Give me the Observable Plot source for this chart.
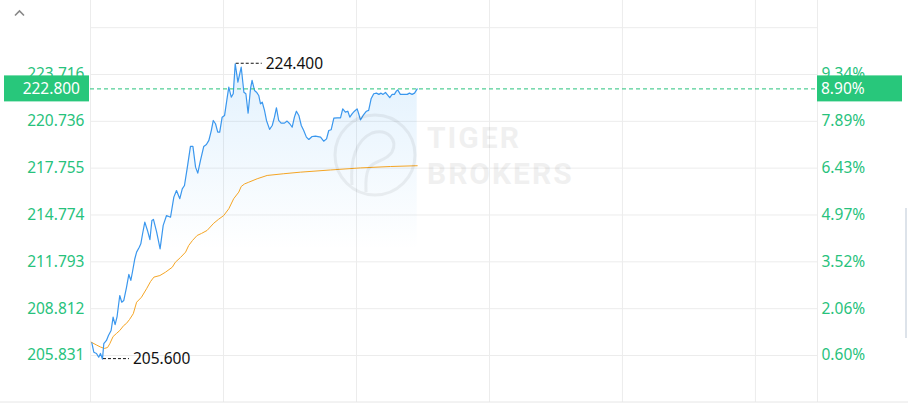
<!DOCTYPE html>
<html><head><meta charset="utf-8">
<script src="https://cdn.jsdelivr.net/npm/d3@7"></script>
<script src="https://cdn.jsdelivr.net/npm/@observablehq/plot@0.6"></script>
<style>
body{margin:0;background:#fff;font-family:"Noto Sans",sans-serif;}
#wrap{position:relative;width:908px;height:403px;overflow:hidden;}
#wrap svg.plot{position:absolute;left:0;top:0;}
#overlay{position:absolute;left:0;top:0;pointer-events:none;}
</style></head><body>
<svg width="0" height="0" style="position:absolute">
  <defs>
    <linearGradient id="areaGrad" x1="0" y1="0" x2="0" y2="1">
      <stop offset="0" stop-color="#2196f3" stop-opacity="0.13"/>
      <stop offset="0.55" stop-color="#2196f3" stop-opacity="0"/>
    </linearGradient>
  </defs>
</svg>
<div id="wrap"></div>
<script>
// ---- data ----
const priceTime = [
  0.6,1.5,2.7,3.7,4.5,5.4,6.0,7.2,8.1,9.3,
  10.2,11.1,12.0,13.2,14.1,15.0,16.2,17.3,18.2,18.9,
  20.0,20.8,22.0,22.7,23.5,24.5,25.7,26.8,27.7,28.4,
  29.8,31.4,32.8,34.3,36.1,37.6,38.8,40.3,41.4,42.4,
  43.6,45.1,46.2,47.4,48.4,49.6,51.1,52.3,53.4,54.5,
  55.4,56.4,57.4,58.3,59.4,60.5,61.7,62.4,63.5,64.4,
  65.3,66.5,68.0,69.2,70.1,71.1,72.2,72.9,74.0,74.9,
  75.9,76.7,77.5,78.5,79.4,80.8,82.0,83.0,83.9,84.9,
  86.0,87.5,88.7,89.9,91.0,92.0,92.9,94.0,95.1,96.2,
  97.4,98.5,100.0,101.5,103.8,105.2,106.5,107.5,108.6,109.8,
  111.3,112.8,113.8,115.0,116.1,117.0,118.1,119.1,120.3,121.0,
  121.8,123.0,124.5,125.5,126.6,127.8,129.0,130.1,131.1,132.0,
  133.1,133.8,135.0,136.1,137.1,138.0,138.6,139.8,141.3,142.9,
  143.9,145.1,146.2,147.4
];
const priceValue = [
  206.64,206.04,205.96,205.72,205.96,205.60,206.58,206.79,207.10,207.42,
  208.27,207.80,208.31,209.65,209.22,209.33,210.14,210.99,210.61,211.13,
  211.99,212.41,212.72,212.94,213.58,214.32,213.79,213.20,214.42,214.49,
  213.72,212.62,214.11,214.74,214.63,215.91,216.33,215.81,216.44,216.65,
  217.72,219.14,219.14,217.82,217.44,218.24,219.14,219.26,219.52,220.15,
  220.79,220.58,220.05,220.05,221.00,221.11,222.27,222.91,222.27,222.49,
  224.40,223.23,224.18,222.59,222.49,221.25,222.81,223.34,222.70,222.59,
  222.38,221.85,221.95,221.43,220.79,220.22,220.47,221.00,221.60,220.79,
  220.62,220.62,220.75,220.58,220.36,221.00,221.38,221.11,220.47,220.15,
  219.73,219.58,219.77,219.79,219.73,219.47,219.62,220.15,220.20,220.94,
  220.96,220.96,221.53,221.32,221.38,221.00,221.22,221.38,221.53,221.22,
  220.83,221.11,221.38,221.43,222.17,222.49,222.53,222.45,222.53,222.45,
  222.57,222.45,222.24,222.45,222.45,222.66,222.74,222.45,222.45,222.45,
  222.53,222.45,222.53,222.80
];
const avgTime = [0.3,2.7,4.5,6.3,7.7,8.7,10.2,11.7,13.2,15.0,16.2,17.6,19.3,20.8,23.0,25.3,27.1,28.6,31.3,33.8,36.9,38.3,40.6,42.9,44.3,46.0,48.1,50.1,52.6,55.6,57.7,60.1,62.4,64.6,66.9,68.0,69.5,71.4,75.2,79.7,87.2,94.7,108.3,121.8,135.3,147.4];
const avgValue = [206.68,206.50,206.37,206.28,206.34,206.58,207.04,207.23,207.42,207.74,207.87,208.12,208.49,209.22,209.54,210.08,210.54,210.82,210.92,211.13,211.45,211.77,212.07,212.41,212.83,213.15,213.47,213.60,213.79,214.25,214.49,214.74,215.17,215.81,216.23,216.59,216.75,216.86,217.08,217.29,217.40,217.50,217.64,217.77,217.86,217.91];

const yTicks = [205.831, 208.812, 211.793, 214.774, 217.755, 220.736, 223.716];
const yTickLabels = ["205.831","208.812","211.793","214.774","217.755","220.736","223.716"];
const pctTickLabels = ["0.60%","2.06%","3.52%","4.97%","6.43%","7.89%","9.34%"];
const yGridExtra = [226.697];
const yDomain = [202.839, 228.426];
const xDomain = [0, 328];
const xGrid = [0, 60, 120, 180, 240, 300, 328];
const lastPrice = 222.8, lastPriceLabel = "222.800", lastPctLabel = "8.90%";
const highT = 65.3, highV = 224.4, highLabel = "224.400";
const lowT = 5.4, lowV = 205.6, lowLabel = "205.600";

const price = priceTime.map((t, i) => ({t, v: priceValue[i]}));
const avg = avgTime.map((t, i) => ({t, v: avgValue[i]}));

const GREEN = "#27c27c", BOX = "#28c77b", BLUE = "#3a97ee", ORANGE = "#f5a524", GRID = "#ececec";

function markers(index, scales, values, dims) {
  const g = d3.create("svg:g");
  const y = scales.y(lastPrice);
  const left = dims.marginLeft, right = dims.width - dims.marginRight;
  g.append("rect").attr("x", 4).attr("y", y - 13).attr("width", left - 5).attr("height", 26).attr("fill", BOX);
  g.append("text").attr("x", left - 10).attr("y", y).attr("dy", "0.35em").attr("text-anchor", "end")
    .attr("fill", "#fff").attr("font-size", 15.5).text(lastPriceLabel);
  g.append("rect").attr("x", right).attr("y", y - 13).attr("width", 85).attr("height", 26).attr("fill", BOX);
  g.append("text").attr("x", right + 4).attr("y", y).attr("dy", "0.35em").attr("text-anchor", "start")
    .attr("fill", "#fff").attr("font-size", 15.5).text(lastPctLabel);
  for (const [t, v, lab] of [[highT, highV, highLabel], [lowT, lowV, lowLabel]]) {
    const x = scales.x(t), yy = scales.y(v);
    g.append("line").attr("x1", x + 1).attr("x2", x + 27).attr("y1", yy).attr("y2", yy)
      .attr("stroke", "#111").attr("stroke-dasharray", "3,2").attr("stroke-width", 1);
    g.append("text").attr("x", x + 31).attr("y", yy).attr("dy", "0.35em").attr("text-anchor", "start")
      .attr("fill", "#111").attr("font-size", 15.5).text(lab);
  }
  return g.node();
}

const chart = Plot.plot({
  width: 908, height: 403,
  marginLeft: 90, marginRight: 91, marginTop: 0, marginBottom: 1,
  style: {fontFamily: "'Noto Sans', sans-serif", fontSize: "15.5px", background: "transparent", overflow: "visible"},
  x: {domain: xDomain, axis: null},
  y: {domain: yDomain, axis: null},
  marks: [
    Plot.ruleY(yTicks.concat(yGridExtra), {stroke: GRID, strokeWidth: 1}),
    Plot.ruleX(xGrid, {stroke: GRID, strokeWidth: 1, y1: yDomain[0], y2: yDomain[1]}),
    Plot.areaY(price, {x: "t", y1: yDomain[0], y2: "v", fill: "url(#areaGrad)"}),
    Plot.lineY(avg, {x: "t", y: "v", stroke: ORANGE, strokeWidth: 1}),
    Plot.lineY(price, {x: "t", y: "v", stroke: BLUE, strokeWidth: 1.2}),
    Plot.ruleY([lastPrice], {stroke: GREEN, strokeWidth: 1, strokeDasharray: "4,3"}),
    Plot.axisY(yTicks, {anchor: "left", tickSize: 0, tickPadding: 6, color: GREEN, fontSize: 15.5,
      tickFormat: d => yTickLabels[yTicks.indexOf(d)], label: null}),
    Plot.axisY(yTicks, {anchor: "right", tickSize: 0, tickPadding: 4, color: GREEN, fontSize: 15.5,
      tickFormat: d => pctTickLabels[yTicks.indexOf(d)], label: null}),
    markers
  ]
});
chart.classList.add("plot");
const wrap = document.getElementById("wrap");
wrap.appendChild(chart);

// decorations: watermark, chevron, scrollbar, bottom border
const ov = d3.select(wrap).append("svg").attr("id", "overlay").attr("width", 908).attr("height", 403);
ov.append("line").attr("x1", 0).attr("x2", 908).attr("y1", 402).attr("y2", 402).attr("stroke", "#e6e6e6");
ov.append("polyline").attr("points", "15,15.5 19.5,11 24,15.5").attr("fill", "none").attr("stroke", "#888").attr("stroke-width", 1.6);
ov.append("rect").attr("x", 905).attr("y", 208).attr("width", 2).attr("height", 130).attr("fill", "#dde3ea");
const wm = ov.append("g").attr("opacity", 0.055);
wm.append("circle").attr("cx", 375).attr("cy", 155).attr("r", 40).attr("fill", "none").attr("stroke", "#000").attr("stroke-width", 3);
wm.append("path").attr("d", "M352,185 C350,160 356,140 372,133 C388,128 398,140 392,152 C386,162 372,160 368,170 C365,178 366,186 366,192")
  .attr("fill", "none").attr("stroke", "#000").attr("stroke-width", 3);
wm.append("text").attr("x", 427).attr("y", 148).attr("font-size", 30).attr("font-weight", 700)
  .attr("letter-spacing", 2).attr("fill", "#000").attr("font-family", "Roboto, sans-serif").text("TIGER");
wm.append("text").attr("x", 427).attr("y", 184).attr("font-size", 30).attr("font-weight", 700)
  .attr("letter-spacing", 2).attr("fill", "#000").attr("font-family", "Roboto, sans-serif").text("BROKERS");
</script>
</body></html>
